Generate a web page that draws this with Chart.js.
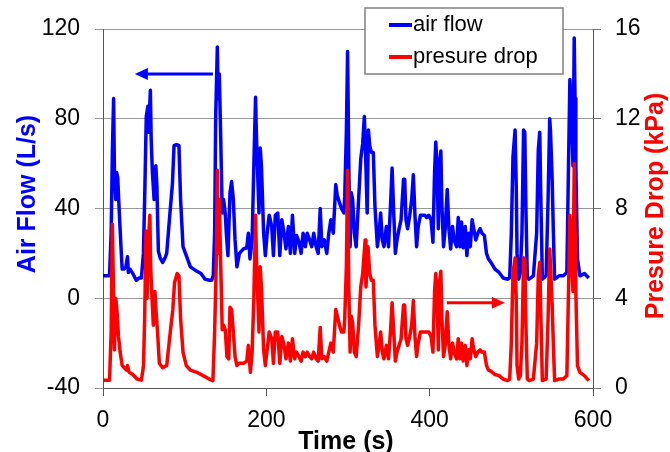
<!DOCTYPE html>
<html lang="en">
<head>
    <meta charset="UTF-8">
    <title>Air flow and pressure drop</title>
    <style>
        html, body { margin: 0; padding: 0; background: #fff; }
        #chart-box { width: 670px; height: 452px; }
    </style>
</head>
<body>
    <div id="chart-box">
        <canvas id="flow-chart" width="670" height="452"></canvas>
    </div>
    <script src="https://cdn.jsdelivr.net/npm/chart.js"></script>
    <script>
    // values
    const airTime = [0, 4, 8, 10, 11.5, 13, 14, 15.6, 16.7, 18, 20, 22, 23.5, 26, 28, 30, 31, 33, 36.5, 40.7, 44, 47,
        49.5, 51, 53, 55, 56, 58, 59, 60.5, 62.6, 64.7, 66, 67.8, 70, 73, 76, 78, 82, 85, 87, 90, 93, 95, 98, 102, 107, 111, 115, 120, 125, 130, 133,
        135, 136.7, 138, 140, 141, 142.4, 144, 146, 147.6, 149.7, 151, 153, 155.5, 157.5, 159.6, 161.7, 164, 167, 172, 176, 178, 180, 182.6,
        184.7, 186.8, 188, 191, 192.5, 194, 196.7, 198.8, 201, 203.5, 206.6, 208.7, 211, 214, 216.5, 219, 221.7, 224, 227, 229.5, 232, 234.8,
        237, 240, 242.6, 245, 247.8, 250, 253, 255.6, 258, 261, 263.5, 266, 268, 271, 274, 276.5, 279, 282, 285, 287, 289.6, 292, 295, 296,
        298, 299.5, 301, 302.6, 304, 305.7, 307.8, 310, 313, 315.6, 318, 320, 321.4, 323.5, 325, 326.6, 328.7, 331, 333, 336, 338, 340, 342,
        344, 347, 349.6, 352, 354, 356, 358, 360, 362.6, 365, 368, 369.4, 371, 373, 375.6, 378, 380, 382, 384, 386, 388.7, 391, 394, 396.5,
        399, 401.7, 404, 406, 407.5, 409, 410.6, 412, 413.7, 415, 417, 419, 421.5, 423.6, 425.7, 428, 430, 433, 435, 437, 439, 441, 443.6,
        445.6, 447.6, 449.8, 452, 454, 456.5, 459, 461.7, 464, 467, 469.6, 472, 475, 480, 485, 490, 495.6, 498,
        500, 502, 504.6, 506, 507, 509, 511, 513, 515, 516.5, 518, 519.6, 521.7, 527, 531, 533, 534.8, 536, 538, 542.6, 545, 547, 548, 550,
        551.5, 553, 558.6, 563.6, 568, 570, 571.7, 573, 574.4, 575.5, 577, 578, 579, 581, 584, 589.5, 594.8];
    const airFlow = [10, 10, 10, 29, 66, 89, 56, 44, 56, 54, 38, 23, 13, 13, 14, 18.5, 11.5, 13, 11, 8, 9, 9,
        20, 44, 81, 85.6, 74, 92.7, 71, 56, 44, 59, 50, 21, 18, 16, 18, 20, 38, 51, 68, 68.5, 68, 44, 23, 19, 14, 13, 12, 11, 8.5, 8, 8,
        10, 29, 81, 112, 89, 100, 74, 38, 44, 38, 29, 19, 47, 52, 44, 26, 14, 20, 22, 22.5, 29, 17.5, 26,
        59, 89.6, 71, 38, 67, 59, 29, 19, 29, 37, 32, 19, 37, 38, 19, 35, 29, 22, 32, 20, 37, 20,
        28, 25, 20, 29, 23, 29, 26, 23, 29, 23, 20, 40, 23, 26, 20, 29, 35, 29, 50.7, 45.5, 42.6, 40, 38, 45.5,
        74, 110, 59, 23, 47, 44, 29, 23, 44, 62, 69, 81, 66, 38, 75, 68, 65, 65, 41, 23, 29, 38, 26,
        23, 32, 23, 41, 58, 38, 20, 26, 31, 35, 53, 53, 35, 31, 37, 44, 55, 37, 23, 32, 37, 37, 37, 36,
        37, 35, 25, 56, 69.6, 59, 31, 59, 65.6, 41, 23, 31, 48.5, 31, 22, 32, 26, 23, 36, 23, 34, 22.5, 32,
        19, 29, 23, 35, 31, 26, 29, 31, 29, 28, 20, 17.5, 16, 13, 11.5, 9, 8.5, 9.2,
        29, 63, 75, 50, 20, 8.5, 11.5, 29, 75, 74, 37, 9, 8.5, 10, 29, 66, 74, 47, 8.5, 10, 44, 80, 74, 53,
        29, 8.5, 10, 10, 11.5, 59, 97.5, 89, 74, 59, 116, 89, 59, 17.5, 10, 11, 9];

    const dropTime = [0, 4, 8, 10, 11.5, 13, 14, 15.6, 17, 19, 21, 23.5, 28.7, 30, 32, 36.5, 41.7, 47,
        49.6, 51, 52.7, 54, 55.6, 57.4, 58.4, 60, 61.6, 63.6, 65, 66.8, 69, 73, 78, 82.4, 85.5, 87.6, 90.8, 93, 95, 98, 102, 107, 115, 122.6, 130, 134.6,
        136.7, 138.8, 140, 141, 142.4, 144, 146, 147.6, 149.7, 151.8, 154, 155.5, 157.5, 159.6, 161.7, 164, 167, 172, 176, 178, 180.5, 182.6,
        184.7, 186.8, 188, 191, 192.5, 194, 196.7, 198.8, 201, 203.5, 206.6, 208.7, 211, 214, 216.5, 219, 221.7, 224, 227, 229.5, 232, 234.8,
        237, 240, 242.6, 245, 247.8, 250, 253, 255.6, 258, 261, 263.5, 266, 268, 271, 274, 276.5, 279, 282, 285, 287, 289.6, 292, 295, 296,
        298, 299.5, 301, 302.6, 304, 305.7, 307.8, 310, 313, 315.6, 318, 321, 322, 324.5, 326.6, 328.7, 331, 333, 336, 338, 340, 342,
        344, 347, 349.6, 352, 354, 356, 358, 360, 362.6, 365, 368, 369.4, 371, 373, 375.6, 378, 380, 382, 384, 386, 388.7, 391, 394, 396.5,
        399, 401.7, 404, 406, 407.5, 409, 410.6, 412, 413.7, 415, 417, 419, 421.5, 423.6, 425.7, 428, 430, 433, 435, 437, 439, 441, 443.6,
        445.6, 447.6, 449.8, 452, 454, 456.5, 459, 461.7, 464, 467, 469.6, 472, 475, 480, 485, 490, 495.6, 498,
        500, 502, 504.6, 506, 507, 509, 511, 513, 515, 516.5, 518, 519.6, 521.7, 527, 531, 533, 534.8, 536, 538, 542.6, 545, 547, 548, 550,
        551.5, 553, 558.6, 563.6, 568, 570, 571.7, 573, 574.4, 575.5, 577, 578, 579, 581, 584, 589.5, 594.8];
    const pressureDrop = [0.35, 0.35, 0.35, 2.5, 7.3, 4.0, 1.7, 4.0, 3.5, 2.3, 1.6, 1.0, 0.8, 1.0, 0.7, 0.6, 0.4, 0.35,
        1.0, 3.1, 7.0, 4.0, 6.6, 7.7, 5.4, 4.0, 2.8, 4.3, 3.4, 2.5, 1.1, 0.9, 1.0, 2.5, 3.5, 4.7, 5.1, 5.0, 3.1, 1.6, 1.0, 0.8, 0.7, 0.55, 0.4, 0.33,
        2.5, 5.7, 9.7, 6.0, 8.4, 5.7, 2.6, 2.8, 2.6, 1.4, 1.3, 3.6, 3.5, 2.5, 1.4, 1.0, 1.1, 1.1, 1.2, 1.9, 0.7, 1.6,
        4.0, 7.7, 5.7, 2.5, 5.4, 4.5, 1.7, 1.0, 1.7, 2.5, 2.2, 1.1, 2.5, 2.5, 1.1, 2.3, 1.9, 1.3, 2.0, 1.2, 2.2, 1.3,
        1.6, 1.4, 1.2, 1.6, 1.4, 1.6, 1.4, 1.3, 1.6, 1.3, 1.2, 2.7, 1.3, 1.4, 1.2, 1.6, 2.0, 1.6, 3.5, 3.2, 2.8, 2.5, 2.5, 3.1,
        5.4, 9.7, 4.5, 1.6, 3.2, 2.9, 1.6, 1.4, 2.8, 4.5, 5.1, 6.6, 4.5, 6.3, 5.1, 4.8, 4.8, 2.8, 1.4, 1.9, 2.5, 1.6,
        1.3, 1.9, 1.3, 2.5, 3.8, 2.5, 1.2, 1.6, 1.9, 2.2, 3.7, 3.7, 2.2, 1.9, 2.3, 2.8, 3.9, 2.3, 1.4, 2.0, 2.5, 2.5, 2.5, 2.5,
        2.5, 2.3, 1.6, 4.3, 5.1, 4.3, 1.7, 4.7, 5.2, 3.1, 1.4, 1.9, 3.4, 1.9, 1.3, 2.0, 1.6, 1.3, 2.2, 1.3, 2.0, 1.2, 1.9,
        1.0, 1.7, 1.3, 2.2, 1.7, 1.4, 1.6, 1.7, 1.6, 1.6, 1.0, 0.8, 0.75, 0.6, 0.55, 0.4, 0.33, 0.4,
        2.0, 5.1, 5.8, 4.0, 1.0, 0.4, 0.55, 2.0, 5.8, 5.7, 2.6, 0.4, 0.33, 0.4, 2.0, 5.0, 5.6, 3.5, 0.33, 0.4, 3.1, 6.2, 5.4, 3.7,
        1.9, 0.33, 0.4, 0.4, 0.55, 4.3, 7.7, 6.9, 5.1, 4.3, 10.0, 6.9, 4.3, 1.0, 0.7, 0.55, 0.33];

    const xTicks = [0, 200, 400, 600];
    const flowTicks = [-40, 0, 40, 80, 120];
    const dropTicks = [0, 4, 8, 12, 16];

    const blue = '#0000ff';
    const red = '#ff0000';
    const fontFamily = "'Liberation Sans', Arial, sans-serif";

    function toPoints(xs, ys) {
        return xs.map((x, i) => ({ x: x, y: ys[i] }));
    }

    // titles, arrows and the boxed legend, drawn on top of the chart
    const extras = {
        id: 'extras',
        afterDraw(chart) {
            const ctx = chart.ctx;
            const sx = chart.scales.x, sy = chart.scales.y, sy1 = chart.scales.y1;
            ctx.save();

            // arrows
            function arrow(x1, x2, y, color) {
                const dir = x2 < x1 ? -1 : 1;
                ctx.strokeStyle = color;
                ctx.fillStyle = color;
                ctx.lineWidth = 3;
                ctx.beginPath();
                ctx.moveTo(x1, y);
                ctx.lineTo(x2 - dir * 10, y);
                ctx.stroke();
                ctx.beginPath();
                ctx.moveTo(x2, y);
                ctx.lineTo(x2 - dir * 13, y - 6);
                ctx.lineTo(x2 - dir * 13, y + 6);
                ctx.closePath();
                ctx.fill();
            }
            arrow(sx.getPixelForValue(134.6), sx.getPixelForValue(39), sy.getPixelForValue(100), blue);
            arrow(sx.getPixelForValue(421), sx.getPixelForValue(492), sy1.getPixelForValue(3.8), red);

            // axis titles
            ctx.font = 'bold 25px ' + fontFamily;
            ctx.textAlign = 'center';
            ctx.textBaseline = 'middle';
            ctx.fillStyle = '#000';
            ctx.fillText('Time (s)', 346, 442);

            ctx.save();
            ctx.translate(28, 194);
            ctx.rotate(-Math.PI / 2);
            ctx.fillStyle = blue;
            ctx.fillText('Air Flow (L/s)', 0, 0);
            ctx.restore();

            ctx.save();
            ctx.translate(656, 206);
            ctx.rotate(-Math.PI / 2);
            ctx.fillStyle = red;
            ctx.fillText('Presure Drop (kPa)', 0, 0);
            ctx.restore();

            // legend box
            ctx.fillStyle = '#fff';
            ctx.fillRect(365, 8, 198, 66);
            ctx.strokeStyle = '#808080';
            ctx.lineWidth = 1.5;
            ctx.strokeRect(365, 8, 198, 66);
            const items = [['air flow', blue, 25], ['presure drop', red, 57]];
            ctx.font = '22px ' + fontFamily;
            ctx.textAlign = 'left';
            items.forEach(([label, color, y]) => {
                ctx.strokeStyle = color;
                ctx.lineWidth = 4;
                ctx.beginPath();
                ctx.moveTo(389, y);
                ctx.lineTo(412, y);
                ctx.stroke();
                ctx.fillStyle = '#000';
                ctx.fillText(label, 413, y);
            });
            ctx.restore();
        }
    };

    Chart.defaults.font.family = fontFamily;
    Chart.defaults.color = '#000';

    new Chart(document.getElementById('flow-chart'), {
        type: 'line',
        data: {
            datasets: [
                {
                    label: 'air flow',
                    data: toPoints(airTime, airFlow),
                    yAxisID: 'y',
                    borderColor: blue,
                    borderWidth: 3.5,
                    pointRadius: 0,
                    tension: 0,
                    borderJoinStyle: 'round',
                    order: 2
                },
                {
                    label: 'presure drop',
                    data: toPoints(dropTime, pressureDrop),
                    yAxisID: 'y1',
                    borderColor: red,
                    borderWidth: 3.5,
                    pointRadius: 0,
                    tension: 0,
                    borderJoinStyle: 'round',
                    order: 1
                }
            ]
        },
        options: {
            responsive: false,
            animation: false,
            layout: { padding: { top: 29, left: 0, right: 0, bottom: 0 } },
            plugins: { legend: { display: false }, tooltip: { enabled: false } },
            scales: {
                x: {
                    type: 'linear',
                    min: 0, max: 600,
                    afterBuildTicks(s) { s.ticks = xTicks.map(v => ({ value: v })); },
                    ticks: { font: { size: 23 }, padding: 11, maxRotation: 0 },
                    grid: { drawOnChartArea: false, drawTicks: true, tickLength: 8, color: '#555' },
                    border: { color: '#555', width: 1 },
                    afterFit(s) { s.height = 64; }
                },
                y: {
                    position: 'left',
                    min: -40, max: 120,
                    afterBuildTicks(s) { s.ticks = flowTicks.map(v => ({ value: v })); },
                    ticks: { font: { size: 23 }, padding: 15 },
                    grid: { color: '#999', tickLength: 8 },
                    border: { color: '#555', width: 1 },
                    afterFit(s) { s.width = 103; }
                },
                y1: {
                    position: 'right',
                    min: 0, max: 16,
                    afterBuildTicks(s) { s.ticks = dropTicks.map(v => ({ value: v })); },
                    ticks: { font: { size: 23 }, padding: 14 },
                    grid: { drawOnChartArea: false, color: '#777', tickLength: 8 },
                    border: { color: '#555', width: 1 },
                    afterFit(s) { s.width = 77; }
                }
            }
        },
        plugins: [extras]
    });
    </script>
</body>
</html>
